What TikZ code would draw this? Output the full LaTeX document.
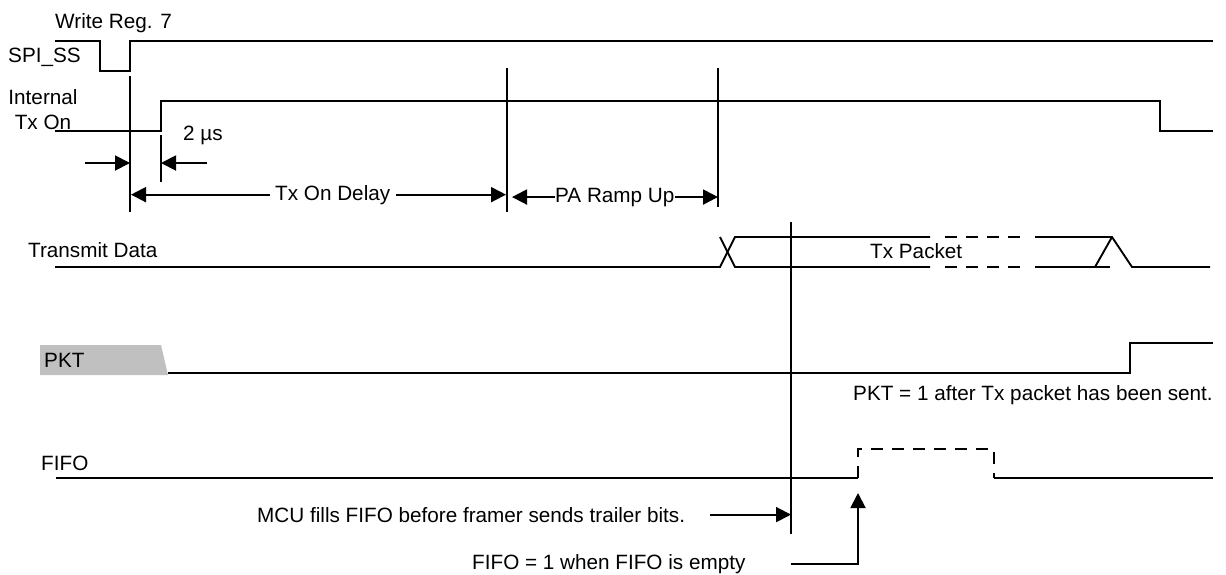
\documentclass[tikz,border=0pt]{standalone}
\usepackage{fontspec}
\setmainfont{Liberation Sans}
\usetikzlibrary{arrows.meta}
\definecolor{pktgray}{RGB}{192,192,192}
\begin{document}
\begin{tikzpicture}[x=1pt,y=-1pt,
  sig/.style={line width=1.9pt, line join=miter},
  guide/.style={line width=1.9pt},
  dim/.style={line width=1.9pt,-{Triangle[length=15pt,width=15pt]}},
  lbl/.style={anchor=base west, inner sep=0pt, font=\fontsize{20.7}{25}\selectfont},
  dsh/.style={sig, line width=2.5pt, dash pattern=on 12pt off 9pt}]
\useasboundingbox (0,0) rectangle (1226,574);

% ---------- labels ----------
\node[lbl] (wr)  at (55,28)  {Write Reg. 7};
\node[lbl] (spi) at (8,62)   {SPI\_SS};
\node[lbl, anchor=north, align=center] (itx) at (43,89) {Internal\\Tx On};
\node[lbl] (tus) at (183,140) {2 µs};
\node[lbl] (tod) at (275,200) {Tx On Delay};
\node[lbl] (par) at (555,202) {PA Ramp Up};
\node[lbl] (tdl) at (28,257)  {Transmit Data};
\node[lbl] (txp) at (870,258) {Tx Packet};
\fill[pktgray] (40,345) -- (161,345) -- (168,375) -- (40,375) -- cycle;
\node[lbl] (pkt) at (44,367)  {PKT};
\node[lbl] (pkn) at (853,400) {PKT = 1 after Tx packet has been sent.};
\node[lbl] (ffl) at (41,470)  {FIFO};
\node[lbl] (mcu) at (257,522) {MCU fills FIFO before framer sends trailer bits.};
\node[lbl] (ffn) at (472,569) {FIFO = 1 when FIFO is empty};

% ---------- guide coordinates ----------
\coordinate (g1t) at (130,76);  \coordinate (g1b) at (130,212);
\coordinate (g0t) at (161,135); \coordinate (g0b) at (161,182);
\coordinate (g2t) at (507,68);  \coordinate (g2b) at (507,212);
\coordinate (g3t) at (718,68);  \coordinate (g3b) at (718,207);
\coordinate (g4t) at (791,222); \coordinate (g4b) at (791,534);
\coordinate (fr)  at (858,478);

% ---------- signals ----------
\draw[sig] (55,41) -- (100,41) -- (100,71) -- (130,71) -- (130,41) -- (1213,41);
\draw[sig] (55,131) -- (161,131) -- (161,101) -- (1160,101) -- (1160,131) -- (1213,131);

\draw[sig] (55,267) -- (720,267) -- (735,237) -- (930,237);
\draw[sig] (720,237) -- (735,267) -- (930,267);
\draw[dsh] (945,237) -- (1022,237);
\draw[dsh] (945,267) -- (1022,267);
\draw[sig] (1035,237) -- (1112,237) -- (1132,267) -- (1210,267);
\draw[sig] (1035,267) -- (1110,267);
\draw[sig] (1095,267) -- (1112,237);

\draw[sig] (168,373) -- (1130,373) -- (1130,343) -- (1213,343);

\draw[sig] (56,478) -- (fr);
\draw[dsh] (fr) -- (858,449) -- (994,449) -- (994,478);
\draw[sig] (994,478) -- (1213,478);

% ---------- guides ----------
\draw[guide] (g1t) -- (g1b);
\draw[guide] (g0t) -- (g0b);
\draw[guide] (g2t) -- (g2b);
\draw[guide] (g3t) -- (g3b);
\draw[guide] (g4t) -- (g4b);

% ---------- dimension arrows ----------
\draw[dim] (85,163) -- (g1t |- 0,163);
\draw[dim] (207,163) -- (g0t |- 0,163);
\draw[dim] ([xshift=-5pt]tod.west) -- ([xshift=1pt]tod.west -| g1t);
\draw[dim] ([xshift=6pt]tod.east) -- ([xshift=-1pt]tod.east -| g2t);
\draw[dim] (par.west) -- ([xshift=5pt]par.west -| g2t);
\draw[dim] (par.east) -- (par.east -| g3t);
\draw[dim] ([xshift=25pt]mcu.east) -- (mcu.east -| g4t);
\draw[dim] ([xshift=45pt]ffn.east) -| ([yshift=-15pt]fr);
\end{tikzpicture}
\end{document}
